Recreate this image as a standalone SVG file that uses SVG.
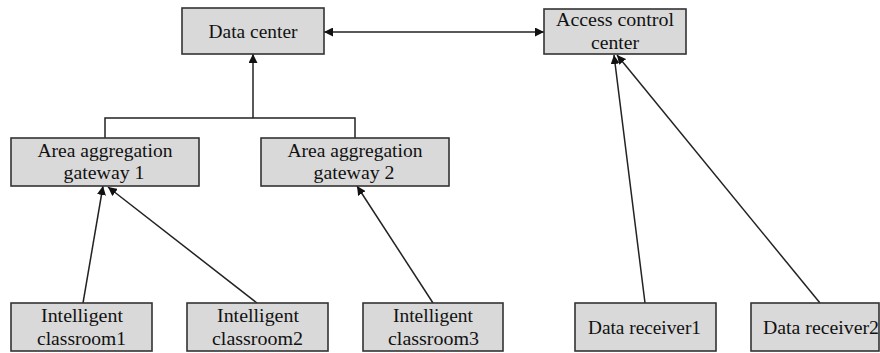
<svg xmlns="http://www.w3.org/2000/svg" width="880" height="353" viewBox="0 0 880 353">
<style>
.box{fill:#d9d9d9;stroke:#333;stroke-width:1.6}
.t{font-family:"Liberation Serif","Times New Roman",serif;font-size:18px;fill:#111;text-anchor:middle}
.ln{stroke:#222;stroke-width:1.5;fill:none}
</style>
<defs>
<marker id="ah" viewBox="0 0 10 10" refX="10" refY="5" markerWidth="9" markerHeight="9" markerUnits="userSpaceOnUse" orient="auto-start-reverse">
<path d="M0,0 L10,5 L0,10 z" fill="#111"/>
</marker>
</defs>
<rect width="880" height="353" fill="#fff"/>
<g id="connectors">
<line class="ln" x1="324" y1="32" x2="544" y2="32" marker-start="url(#ah)" marker-end="url(#ah)"/>
<polyline class="ln" points="105,138 105,118 355,118 355,138"/>
<line class="ln" x1="253" y1="118" x2="253" y2="54" marker-end="url(#ah)"/>
<line class="ln" x1="83" y1="303" x2="103" y2="186" marker-end="url(#ah)"/>
<line class="ln" x1="257" y1="303" x2="108" y2="187" marker-end="url(#ah)"/>
<line class="ln" x1="433" y1="303" x2="357" y2="186" marker-end="url(#ah)"/>
<line class="ln" x1="645" y1="303" x2="614" y2="55" marker-end="url(#ah)"/>
<line class="ln" x1="820" y1="303" x2="617" y2="55" marker-end="url(#ah)"/>
</g>
<g id="data-center">
<rect class="box" x="182" y="8" width="142" height="46"/>
<text class="t" x="253" y="38" textLength="89" lengthAdjust="spacingAndGlyphs">Data center</text>
</g>
<g id="access-control-center">
<rect class="box" x="544" y="9" width="142" height="45"/>
<text class="t" x="615" y="26" textLength="118" lengthAdjust="spacingAndGlyphs">Access control</text>
<text class="t" x="615" y="49" textLength="48" lengthAdjust="spacingAndGlyphs">center</text>
</g>
<g id="gateway1">
<rect class="box" x="11" y="138" width="188" height="48"/>
<text class="t" x="105" y="157" textLength="135" lengthAdjust="spacingAndGlyphs">Area aggregation</text>
<text class="t" x="104" y="179" textLength="81" lengthAdjust="spacingAndGlyphs">gateway 1</text>
</g>
<g id="gateway2">
<rect class="box" x="261" y="138" width="188" height="48"/>
<text class="t" x="355" y="157" textLength="135" lengthAdjust="spacingAndGlyphs">Area aggregation</text>
<text class="t" x="354" y="179" textLength="81" lengthAdjust="spacingAndGlyphs">gateway 2</text>
</g>
<g id="classroom1">
<rect class="box" x="11" y="303" width="141" height="48"/>
<text class="t" x="82" y="322" textLength="82" lengthAdjust="spacingAndGlyphs">Intelligent</text>
<text class="t" x="81.5" y="345" textLength="89" lengthAdjust="spacingAndGlyphs">classroom1</text>
</g>
<g id="classroom2">
<rect class="box" x="187" y="303" width="141" height="48"/>
<text class="t" x="258" y="322" textLength="82" lengthAdjust="spacingAndGlyphs">Intelligent</text>
<text class="t" x="257.5" y="345" textLength="91" lengthAdjust="spacingAndGlyphs">classroom2</text>
</g>
<g id="classroom3">
<rect class="box" x="363" y="303" width="140" height="48"/>
<text class="t" x="433" y="322" textLength="80" lengthAdjust="spacingAndGlyphs">Intelligent</text>
<text class="t" x="433.5" y="345" textLength="91" lengthAdjust="spacingAndGlyphs">classroom3</text>
</g>
<g id="receiver1">
<rect class="box" x="575" y="303" width="141" height="48"/>
<text class="t" x="644.5" y="334" textLength="113" lengthAdjust="spacingAndGlyphs">Data receiver1</text>
</g>
<g id="receiver2">
<rect class="box" x="751" y="303" width="128" height="48"/>
<text class="t" x="821" y="334" textLength="116" lengthAdjust="spacingAndGlyphs">Data receiver2</text>
</g>
</svg>
